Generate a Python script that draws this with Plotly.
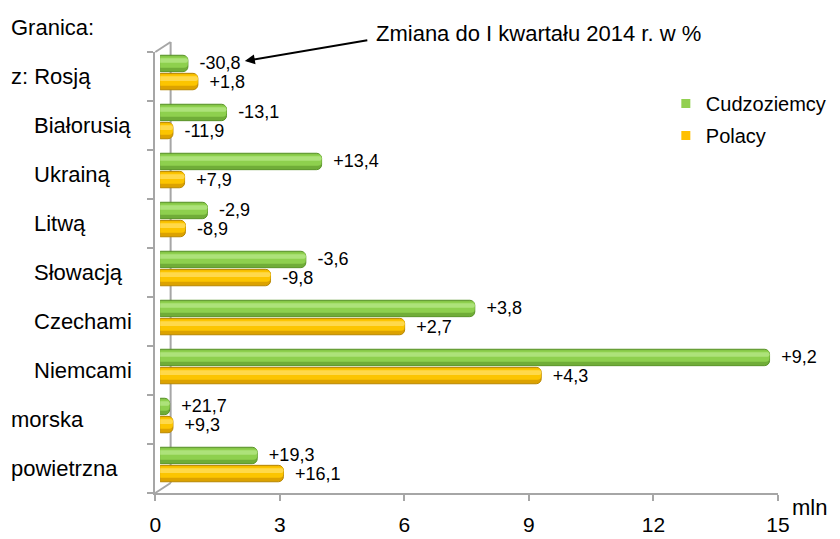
import plotly.graph_objects as go

# ---- data ----
categories = ["z: Rosją", "Białorusią", "Ukrainą", "Litwą", "Słowacją",
              "Czechami", "Niemcami", "morska", "powietrzna"]
foreigners = [0.67, 1.60, 3.89, 1.14, 3.51, 7.58, 14.68, 0.23, 2.34]
poles = [0.91, 0.31, 0.59, 0.61, 2.66, 5.89, 9.18, 0.31, 2.97]
chg_foreigners = ["-30,8", "-13,1", "+13,4", "-2,9", "-3,6", "+3,8", "+9,2", "+21,7", "+19,3"]
chg_poles = ["+1,8", "-11,9", "+7,9", "-8,9", "-9,8", "+2,7", "+4,3", "+9,3", "+16,1"]
x_ticks = [0, 3, 6, 9, 12, 15]
series_names = ["Cudzoziemcy", "Polacy"]

# ---- layout helpers ----
# page body margin and the horizontal mapping observed in the photographed page
OFF = 8
SX, CX = 0.976, 7.0
W, H = 846, 539 - OFF
FONT = "Liberation Sans, Arial, sans-serif"
GRAY = "#a6a6a6"


def px(t):
    u = (t - CX) / SX
    return (u - OFF) / W


def py(y):
    return 1 - (y - OFF) / H


indented = {"Białorusią", "Ukrainą", "Litwą", "Słowacją", "Czechami", "Niemcami"}
PAD = "\u00a0\u2009"
THICK = 0.335

styles = [
    # (values, labels, name, base offset, dark, outline, main, light, legend colour)
    (foreigners, chg_foreigners, series_names[0], -0.352,
     "#70ad38", "#5a9428", "#8ed04e", "#ade27a", "#92d050"),
    (poles, chg_poles, series_names[1], 0.017,
     "#dca200", "#b88700", "#fcc500", "#ffd94a", "#ffc000"),
]

fig = go.Figure()
for vals, labels, name, off, dark, outline, main, light, legc in styles:
    fig.add_trace(go.Bar(
        y=categories, x=vals, orientation="h", name=name, showlegend=False,
        offset=off, width=THICK,
        marker=dict(color=dark, line=dict(color=outline, width=1), cornerradius=5),
        text=[PAD + t for t in labels], textposition="outside",
        textfont=dict(size=18, color="black", family=FONT), constraintext="none",
        cliponaxis=False, hoverinfo="x+y+name"))
    fig.add_trace(go.Bar(
        y=categories, x=vals, orientation="h", showlegend=False, hoverinfo="skip",
        offset=off + 0.02, width=THICK * 0.7,
        marker=dict(color=main, line=dict(width=0), cornerradius=4)))
    fig.add_trace(go.Bar(
        y=categories, x=vals, orientation="h", showlegend=False, hoverinfo="skip",
        offset=off + THICK * 0.18, width=THICK * 0.28,
        marker=dict(color=light, line=dict(width=0), cornerradius=2)))
    # legend proxy (small square, as in the reference)
    fig.add_trace(go.Scatter(
        x=[None], y=[None], mode="markers", name=name, legendgroup=name,
        marker=dict(symbol="square", size=9, color=legc)))

annotations = [
    dict(text="Granica:", x=px(10), y=py(27), xref="paper", yref="paper",
         xanchor="left", yanchor="middle", showarrow=False, font=dict(size=22)),
    dict(text="Zmiana do I kwartału 2014 r. w %", x=px(374), y=py(33), xref="paper",
         yref="paper", xanchor="left", yanchor="middle", showarrow=False, font=dict(size=22)),
    dict(text="", x=px(245), y=py(61), xref="paper", yref="paper", ax=121 / SX, ay=-21,
         axref="pixel", ayref="pixel", showarrow=True, arrowhead=2, arrowsize=1,
         arrowwidth=2, arrowcolor="black"),
    dict(text="mln", x=px(828), y=py(508), xref="paper", yref="paper",
         xanchor="right", yanchor="middle", showarrow=False, font=dict(size=22)),
]
for i, c in enumerate(categories):
    annotations.append(dict(
        text=c, x=px(33 if c in indented else 10), y=i + 0.5, xref="paper", yref="y2",
        xanchor="left", yanchor="middle", showarrow=False, font=dict(size=22)))

shapes = [
    dict(type="line", xref="paper", yref="paper", x0=px(171), y0=py(42), x1=px(171), y1=py(483),
         line=dict(color=GRAY, width=2), layer="below"),
    dict(type="line", xref="paper", yref="paper", x0=px(155.7), y0=py(52), x1=px(171), y1=py(42),
         line=dict(color=GRAY, width=2), layer="below"),
    dict(type="line", xref="paper", yref="paper", x0=px(155.7), y0=py(493), x1=px(171), y1=py(483),
         line=dict(color=GRAY, width=2), layer="below"),
]

fig.update_layout(
    width=W, height=H, margin=dict(l=0, r=0, t=0, b=0),
    paper_bgcolor="white", plot_bgcolor="rgba(0,0,0,0)",
    font=dict(family=FONT, color="black", size=22),
    barmode="overlay",
    xaxis=dict(domain=[px(160.5), px(781.5)], range=[0, 15], visible=False, fixedrange=True),
    yaxis=dict(domain=[py(489), py(48)], type="category", categoryorder="array",
               categoryarray=categories, range=[len(categories) - 0.5, -0.5],
               visible=False, fixedrange=True),
    xaxis2=dict(domain=[px(155.7), px(776.7)], range=[0, 15], anchor="y2",
                tickmode="array", tickvals=x_ticks, ticks="outside", ticklen=6,
                tickcolor=GRAY, tickwidth=2, showline=True, linecolor=GRAY, linewidth=2,
                showgrid=False, zeroline=False, tickfont=dict(size=21), ticklabelstandoff=6,
                fixedrange=True),
    yaxis2=dict(domain=[py(493), py(52)], range=[len(categories), 0], anchor="x2",
                tickmode="array", tickvals=list(range(len(categories) + 1)),
                ticks="outside", ticklen=6, tickcolor=GRAY, tickwidth=2,
                showticklabels=False, showline=True, linecolor=GRAY, linewidth=2,
                showgrid=False, zeroline=False, fixedrange=True),
    legend=dict(x=(674 - OFF) / W, y=py(84), xanchor="left", yanchor="top",
                traceorder="grouped", tracegroupgap=3, font=dict(size=20),
                bgcolor="rgba(0,0,0,0)"),
    annotations=annotations, shapes=shapes, showlegend=True,
)

fig.write_html("out.html")
